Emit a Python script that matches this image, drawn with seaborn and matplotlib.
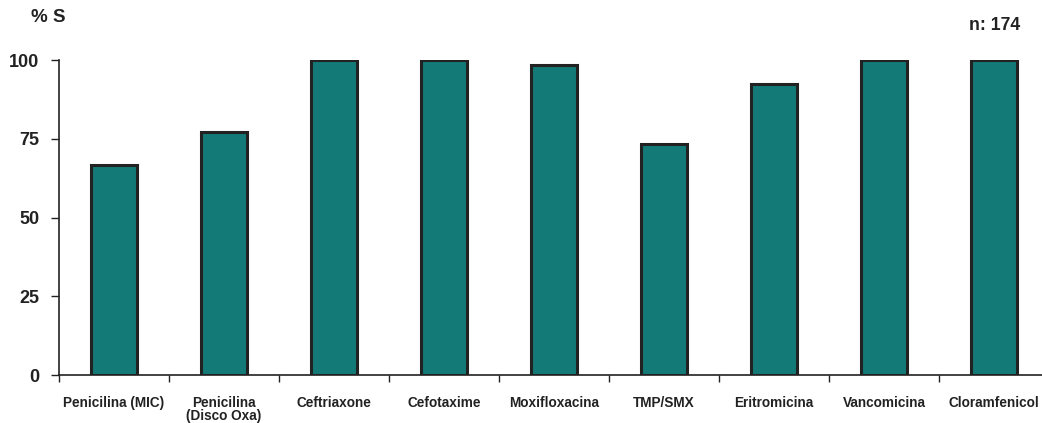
import matplotlib
matplotlib.use("Agg")
import matplotlib.pyplot as plt
import seaborn as sns
import pandas as pd
import numpy as np

antibiotics = ["Penicilina (MIC)", "Penicilina\n(Disco Oxa)", "Ceftriaxone", "Cefotaxime",
               "Moxifloxacina", "TMP/SMX", "Eritromicina", "Vancomicina", "Cloramfenicol"]
pct_susceptible = [66.8, 77.1, 100, 100, 98.3, 73.2, 92.3, 100, 100]
y_ticks = [0, 25, 50, 75, 100]

sns.set_theme(style="white")
plt.rcParams["font.family"] = ["Liberation Sans", "DejaVu Sans"]

df = pd.DataFrame({"antibiotic": antibiotics, "pct": pct_susceptible})

fig = plt.figure(figsize=(10.42, 4.23), dpi=100)
ax = fig.add_axes([59 / 1042, 1 - 375 / 423, 990 / 1042, 315 / 423])

sns.barplot(data=df, x="antibiotic", y="pct", ax=ax, color="#137a77",
            saturation=1, edgecolor="#222222", linewidth=2.2, width=0.41)

ax.set_ylim(0, 100)
ax.set_xlim(-0.5, len(antibiotics) - 0.5)
ax.set_yticks(y_ticks)
ax.set_yticklabels([str(t) for t in y_ticks], fontsize=13, fontweight="bold", color="#222222")
ax.tick_params(axis="y", which="major", direction="out", length=6, width=1,
               color="#222222", pad=8, left=True)

# boundary ticks between categories, labels centred under bars
ax.set_xticks(np.arange(-0.5, len(antibiotics), 1.0))
ax.set_xticklabels([])
ax.set_xticks(np.arange(len(antibiotics)), minor=True)
ax.set_xticklabels(antibiotics, minor=True, fontsize=9.8, fontweight="bold",
                   color="#222222", linespacing=0.95, va="top")
ax.tick_params(axis="x", which="major", direction="out", length=5, width=1,
               color="#222222", bottom=True)
ax.tick_params(axis="x", which="minor", length=0, pad=15)

ax.set_xlabel("")
ax.set_ylabel("")
for side in ["top", "right"]:
    ax.spines[side].set_visible(False)
for side in ["left", "bottom"]:
    ax.spines[side].set_color("#222222")
    ax.spines[side].set_linewidth(1.2)

fig.text(31 / 1042, 1 - 18 / 423, "% S", fontsize=13.5, fontweight="bold",
         color="#222222", ha="left", va="center")
fig.text(1020 / 1042, 1 - 26 / 423, "n: 174", fontsize=12.7, fontweight="bold",
         color="#222222", ha="right", va="center")

fig.savefig("out.png", dpi=100)
